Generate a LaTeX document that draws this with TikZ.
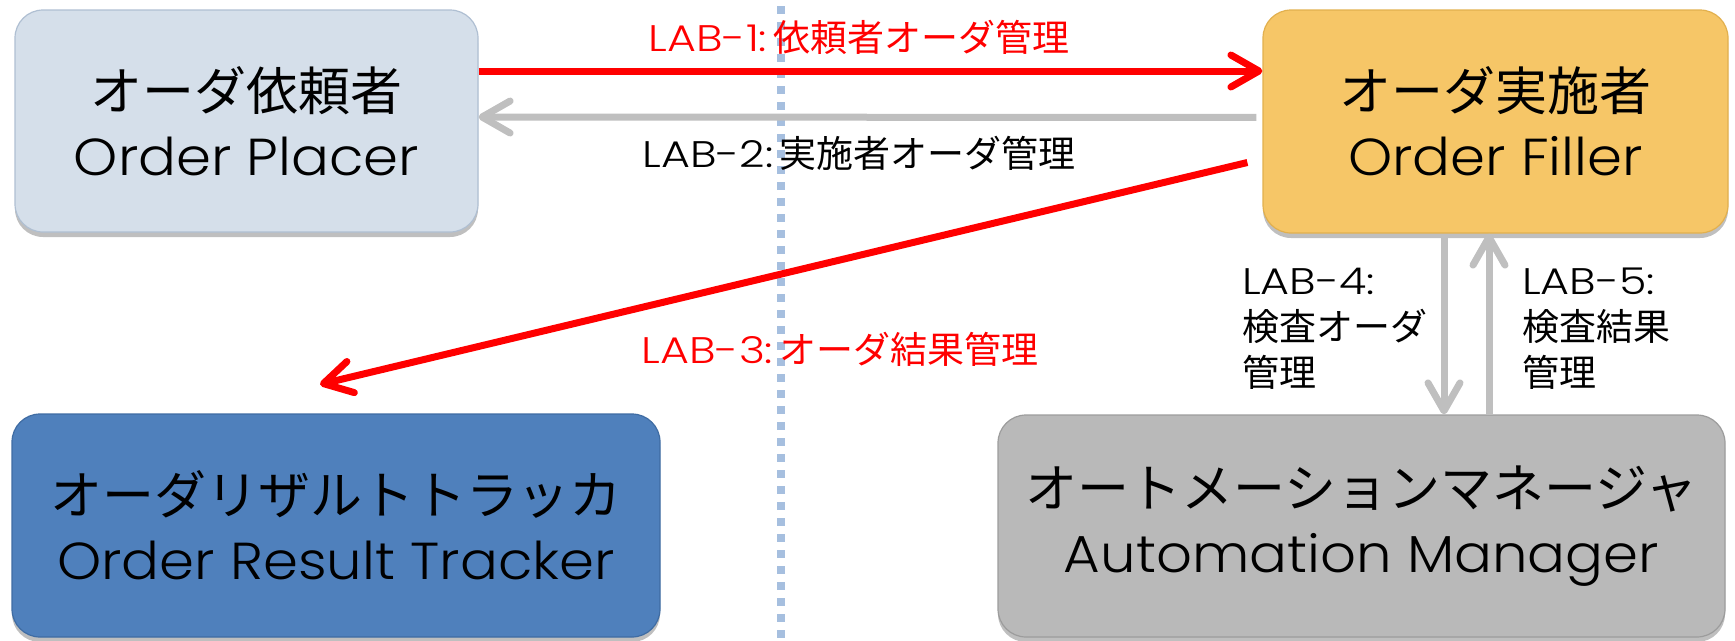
\documentclass[tikz,border=0pt]{standalone}
\usepackage{fontspec}
\IfFontExistsTF{Poppins Light}{%
  \setmainfont[FakeStretch=1.08]{Poppins Light}%
  \newfontfamily\labfont[FakeStretch=1.2]{Poppins Light}%
}{%
  \setmainfont[FakeStretch=1.08]{Poppins}%
  \newfontfamily\labfont[FakeStretch=1.2]{Poppins}%
}
\newfontfamily\cjk{Noto Sans CJK JP}
\usetikzlibrary{arrows.meta,shadows}
\definecolor{opfill}{HTML}{D5DFEA}
\definecolor{opdraw}{HTML}{AFBFD2}
\definecolor{offill}{HTML}{F6C667}
\definecolor{ofdraw}{HTML}{E2B04E}
\definecolor{ortfill}{HTML}{4F80BC}
\definecolor{ortdraw}{HTML}{3F6CA3}
\definecolor{amfill}{HTML}{B9B9B9}
\definecolor{amdraw}{HTML}{9C9C9C}
\definecolor{arrgray}{HTML}{BFBFBF}
\definecolor{dotblue}{HTML}{A6BFDF}
\begin{document}
\begin{tikzpicture}[x=1pt,y=-1pt,
  box/.style={line width=1.2pt, rounded corners=28pt, align=center,
    inner sep=0pt, font=\fontsize{52}{65}\selectfont,
    drop shadow={shadow xshift=0pt, shadow yshift=-5pt, opacity=0.25, fill=black}},
  lab/.style={inner sep=0pt, font=\labfont\fontsize{37}{46}\selectfont},
  redarr/.style={draw=red, line width=7pt, -{Straight Barb[length=28pt,width=32pt,round]}},
  grayarr/.style={draw=arrgray, line width=7pt, -{Straight Barb[length=28pt,width=32pt,round]}},
  dotline/.style={draw=dotblue, line width=8pt, dash pattern=on 8pt off 8pt, dash phase=10pt}
]
\useasboundingbox (0,0) rectangle (1735,640);
\coordinate (dtop) at (781,0);
\coordinate (dbot) at (781,640);
\draw[dotline] (dtop) -- (dbot);

\node[box, draw=opdraw, fill=opfill, minimum width=463pt, minimum height=222pt] (OP) at (246.5,121) {{\cjk オーダ依頼者}\\Order Placer};
\node[box, draw=ofdraw, fill=offill, minimum width=465pt, minimum height=223pt] (OF) at (1495.5,121.5) {{\cjk オーダ実施者}\\Order Filler};
\node[box, draw=ortdraw, fill=ortfill, minimum width=648pt, minimum height=223pt] (ORT) at (336,525.5) {{\cjk オーダリザルトトラッカ}\\Order Result Tracker};
\node[box, draw=amdraw, fill=amfill, minimum width=727pt, minimum height=222pt] (AM) at (1361.5,526) {{\cjk オートメーションマネージャ}\\Automation Manager};

\draw[redarr] ([yshift=50pt]OP.east) -- ([yshift=50.5pt]OF.west);
\draw[grayarr, shorten <=6pt] ([yshift=4pt]OF.west) -- ([yshift=4pt]OP.east);
\coordinate (l3s) at ([xshift=-15pt,yshift=-41pt]OF.west);
\coordinate (l3e) at ([xshift=-16pt,yshift=29pt]ORT.north);
\draw[redarr] (l3s) -- (l3e);
\coordinate (l4) at ([xshift=-51.5pt]OF.south);
\coordinate (l5) at ([xshift=-6.5pt]OF.south);
\draw[grayarr] (l4) -- (l4 |- AM.north);
\draw[grayarr] (l5 |- AM.north) -- (l5);

\node[lab, text=red] (t1) at (859,37) {LAB-1:\hspace{6pt}{\cjk 依頼者オーダ管理}};
\node[lab] (t2) at (859,153) {LAB-2:\hspace{6pt}{\cjk 実施者オーダ管理}};
\node[lab, text=red] (t3) at (840,349) {LAB-3:\hspace{6pt}{\cjk オーダ結果管理}};
\node[lab, anchor=west, align=left] (t4) at (1242,329) {LAB-4:\\{\cjk 検査オーダ}\\{\cjk 管理}};
\node[lab, anchor=west, align=left] (t5) at (1522,329) {LAB-5:\\{\cjk 検査結果}\\{\cjk 管理}};
\end{tikzpicture}
\end{document}
